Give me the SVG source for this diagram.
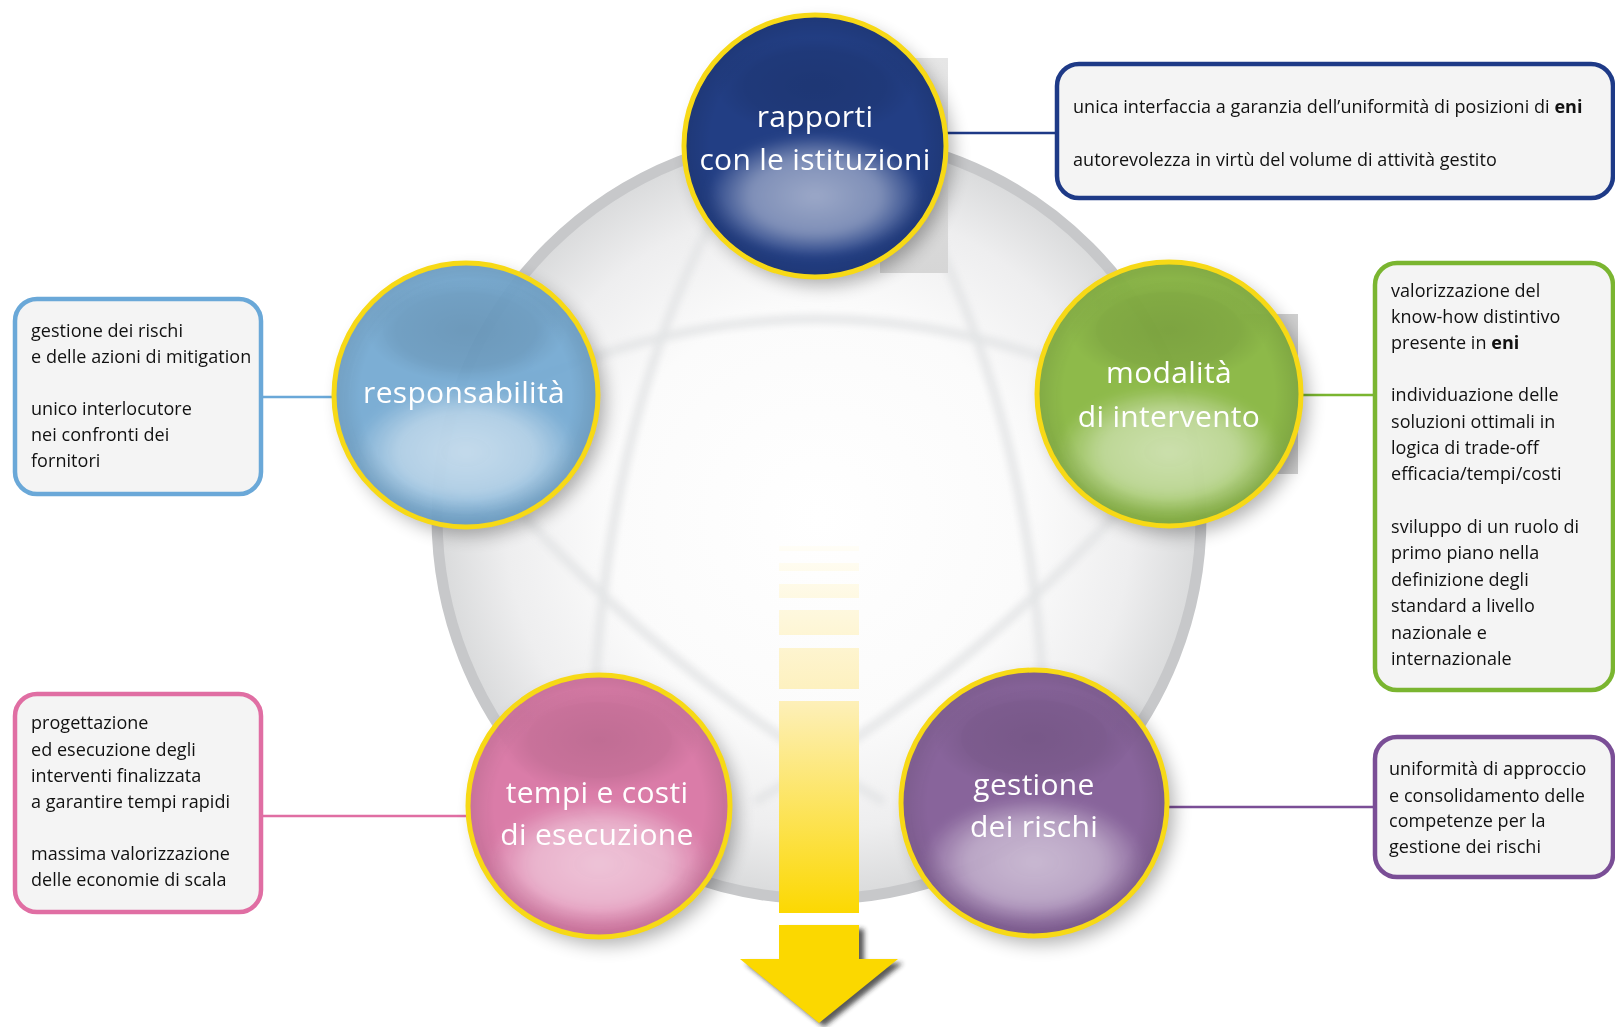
<svg xmlns="http://www.w3.org/2000/svg" width="1615" height="1027" viewBox="0 0 1615 1027">
<style>
.box{fill:#f4f4f4;stroke-width:4.5}
.bt{font-family:"Open Sans","Liberation Sans",sans-serif;font-size:18px;letter-spacing:0.05px;fill:#111}
.ct{font-family:"Open Sans","Liberation Sans",sans-serif;font-size:30px;letter-spacing:0.3px;fill:#fff;text-anchor:middle}
.ring{fill:none;stroke:#f7d916;stroke-width:5}
.arc{fill:none;stroke:#e4e5e6;stroke-width:10;stroke-linecap:round;opacity:0.8}
.con{stroke-width:2.5;fill:none}
</style>
<defs>
<radialGradient id="bg" cx="0.5" cy="0.5" r="0.5">
<stop offset="0" stop-color="#ffffff"/>
<stop offset="0.55" stop-color="#fbfbfb"/>
<stop offset="0.82" stop-color="#eeeeef"/>
<stop offset="1" stop-color="#d9dadb"/>
</radialGradient>
<radialGradient id="vig" cx="0.5" cy="0.5" r="0.5">
<stop offset="0.8" stop-color="#000" stop-opacity="0"/>
<stop offset="1" stop-color="#000" stop-opacity="0.1"/>
</radialGradient>
<radialGradient id="glow" cx="0.5" cy="0.5" r="0.5">
<stop offset="0" stop-color="#fff" stop-opacity="0.55"/>
<stop offset="0.6" stop-color="#fff" stop-opacity="0.42"/>
<stop offset="1" stop-color="#fff" stop-opacity="0"/>
</radialGradient>
<radialGradient id="dark" cx="0.5" cy="0.5" r="0.5">
<stop offset="0" stop-color="#000" stop-opacity="0.12"/>
<stop offset="0.7" stop-color="#000" stop-opacity="0.08"/>
<stop offset="1" stop-color="#000" stop-opacity="0"/>
</radialGradient>
<linearGradient id="arrowg" gradientUnits="userSpaceOnUse" x1="0" y1="540" x2="0" y2="915">
<stop offset="0" stop-color="#fffef9"/>
<stop offset="0.42" stop-color="#fdf0bc"/>
<stop offset="1" stop-color="#fcd800"/>
</linearGradient>
<linearGradient id="artg" x1="0" y1="0" x2="0" y2="1">
<stop offset="0" stop-color="#e6e6e6"/>
<stop offset="1" stop-color="#d6d6d6"/>
</linearGradient>
<filter id="sh" x="-30%" y="-30%" width="160%" height="160%">
<feGaussianBlur stdDeviation="9"/>
</filter>
<filter id="ash" x="-20%" y="-20%" width="140%" height="140%">
<feGaussianBlur stdDeviation="2.5"/>
</filter>
<filter id="soft" x="-10%" y="-10%" width="120%" height="120%">
<feGaussianBlur stdDeviation="3"/>
</filter>
<filter id="gblur" x="-20%" y="-20%" width="140%" height="140%">
<feGaussianBlur stdDeviation="4"/>
</filter>
</defs>

<!-- background sphere -->
<g id="sphere">
<circle cx="819" cy="517" r="382" fill="url(#bg)" stroke="#c7c8ca" stroke-width="11"/>
<g filter="url(#soft)">
<path class="arc" d="M470 410 Q818 228 1165 410"/>
<path class="arc" d="M740 170 Q590 420 592 800"/>
<path class="arc" d="M898 170 Q1048 420 1046 800"/>
<path class="arc" d="M470 455 Q640 660 880 800"/>
<path class="arc" d="M1168 455 Q998 660 758 800"/>
</g>
</g>

<!-- shadow artifacts -->
<rect x="880" y="58" width="68" height="215" fill="url(#artg)"/>
<rect x="1240" y="314" width="58" height="160" fill="#cfcfcf"/>

<!-- arrow -->
<g id="arrow">
<rect x="779" y="546" width="80" height="5" fill="url(#arrowg)"/>
<rect x="779" y="563" width="80" height="8" fill="url(#arrowg)"/>
<rect x="779" y="584" width="80" height="14" fill="url(#arrowg)"/>
<rect x="779" y="610" width="80" height="25" fill="url(#arrowg)"/>
<rect x="779" y="648" width="80" height="41" fill="url(#arrowg)"/>
<rect x="779" y="701" width="80" height="212" fill="url(#arrowg)"/>
<path d="M784 929 H864 V963 H903 L824 1027 L745 963 H784 Z" fill="#222" opacity="0.75" filter="url(#ash)"/>
<path d="M779 925 H859 V959 H898 L819 1023 L740 959 H779 Z" fill="#fbd800"/>
</g>

<!-- connectors -->
<g id="connectors">
<line class="con" x1="945" y1="133" x2="1057" y2="133" stroke="#1e3a87"/>
<line class="con" x1="261" y1="397" x2="336" y2="397" stroke="#6aa8d8"/>
<line class="con" x1="1299" y1="395" x2="1375" y2="395" stroke="#7ab530"/>
<line class="con" x1="261" y1="816" x2="470" y2="816" stroke="#e06ea3"/>
<line class="con" x1="1165" y1="807" x2="1375" y2="807" stroke="#7a4e96"/>
</g>

<!-- nodes: circles -->
<g id="n-rapporti">
<circle cx="822" cy="154" r="131" fill="#000" opacity="0.3" filter="url(#sh)"/>
<circle cx="815" cy="146" r="131" fill="#223e84"/>
<ellipse cx="815" cy="86" rx="100" ry="50" fill="url(#dark)"/>
<ellipse cx="815" cy="196" rx="108" ry="62" fill="url(#glow)" filter="url(#gblur)"/>
<circle cx="815" cy="146" r="131" fill="url(#vig)"/>
<circle class="ring" cx="815" cy="146" r="131"/>
<text class="ct" x="815" y="127">rapporti</text>
<text class="ct" x="815" y="170">con le istituzioni</text>
</g>

<g id="n-responsabilita">
<circle cx="473" cy="403" r="132" fill="#000" opacity="0.3" filter="url(#sh)"/>
<circle cx="466" cy="395" r="132" fill="#78add6" opacity="0.94"/>
<ellipse cx="466" cy="330" rx="100" ry="52" fill="url(#dark)"/>
<ellipse cx="466" cy="452" rx="112" ry="66" fill="url(#glow)" filter="url(#gblur)"/>
<circle cx="466" cy="395" r="132" fill="url(#vig)"/>
<circle class="ring" cx="466" cy="395" r="132"/>
<text class="ct" x="464" y="403">responsabilità</text>
</g>

<g id="n-modalita">
<circle cx="1176" cy="402" r="132" fill="#000" opacity="0.3" filter="url(#sh)"/>
<circle cx="1169" cy="394" r="132" fill="#8cba46" opacity="0.96"/>
<ellipse cx="1169" cy="330" rx="100" ry="52" fill="url(#dark)"/>
<ellipse cx="1169" cy="452" rx="112" ry="66" fill="url(#glow)" filter="url(#gblur)"/>
<circle cx="1169" cy="394" r="132" fill="url(#vig)"/>
<circle class="ring" cx="1169" cy="394" r="132"/>
<text class="ct" x="1169" y="383">modalità</text>
<text class="ct" x="1169" y="427">di intervento</text>
</g>

<g id="n-tempi">
<circle cx="606" cy="814" r="131" fill="#000" opacity="0.3" filter="url(#sh)"/>
<circle cx="599" cy="806" r="131" fill="#dc7aa8" opacity="0.96"/>
<ellipse cx="599" cy="740" rx="100" ry="52" fill="url(#dark)"/>
<ellipse cx="599" cy="864" rx="112" ry="66" fill="url(#glow)" filter="url(#gblur)"/>
<circle cx="599" cy="806" r="131" fill="url(#vig)"/>
<circle class="ring" cx="599" cy="806" r="131"/>
<text class="ct" x="597" y="803">tempi e costi</text>
<text class="ct" x="597" y="845">di esecuzione</text>
</g>

<g id="n-gestione">
<circle cx="1041" cy="811" r="133" fill="#000" opacity="0.3" filter="url(#sh)"/>
<circle cx="1034" cy="803" r="133" fill="#86619a" opacity="0.96"/>
<ellipse cx="1034" cy="738" rx="100" ry="52" fill="url(#dark)"/>
<ellipse cx="1034" cy="862" rx="112" ry="66" fill="url(#glow)" filter="url(#gblur)"/>
<circle cx="1034" cy="803" r="133" fill="url(#vig)"/>
<circle class="ring" cx="1034" cy="803" r="133"/>
<text class="ct" x="1034" y="795">gestione</text>
<text class="ct" x="1034" y="837">dei rischi</text>
</g>

<!-- nodes: boxes -->
<g id="b-rapporti">
<rect class="box" x="1057" y="64" width="556" height="134" rx="22" stroke="#1e3a87"/>
<text class="bt" x="1073" y="113">unica interfaccia a garanzia dell’uniformità di posizioni di <tspan font-weight="bold">eni</tspan></text>
<text class="bt" x="1073" y="166">autorevolezza in virtù del volume di attività gestito</text>
</g>

<g id="b-responsabilita">
<rect class="box" x="15" y="299" width="246" height="195" rx="22" stroke="#6aa8d8"/>
<text class="bt" x="31" y="337">gestione dei rischi</text>
<text class="bt" x="31" y="363">e delle azioni di mitigation</text>
<text class="bt" x="31" y="415">unico interlocutore</text>
<text class="bt" x="31" y="441">nei confronti dei</text>
<text class="bt" x="31" y="467">fornitori</text>
</g>

<g id="b-modalita">
<rect class="box" x="1375" y="263" width="238" height="427" rx="22" stroke="#7ab530"/>
<text class="bt" x="1391" y="297">valorizzazione del</text>
<text class="bt" x="1391" y="323">know-how distintivo</text>
<text class="bt" x="1391" y="349">presente in <tspan font-weight="bold">eni</tspan></text>
<text class="bt" x="1391" y="401">individuazione delle</text>
<text class="bt" x="1391" y="428">soluzioni ottimali in</text>
<text class="bt" x="1391" y="454">logica di trade-off</text>
<text class="bt" x="1391" y="480">efficacia/tempi/costi</text>
<text class="bt" x="1391" y="533">sviluppo di un ruolo di</text>
<text class="bt" x="1391" y="559">primo piano nella</text>
<text class="bt" x="1391" y="586">definizione degli</text>
<text class="bt" x="1391" y="612">standard a livello</text>
<text class="bt" x="1391" y="639">nazionale e</text>
<text class="bt" x="1391" y="665">internazionale</text>
</g>

<g id="b-tempi">
<rect class="box" x="15" y="694" width="246" height="218" rx="22" stroke="#e06ea3"/>
<text class="bt" x="31" y="729">progettazione</text>
<text class="bt" x="31" y="756">ed esecuzione degli</text>
<text class="bt" x="31" y="782">interventi finalizzata</text>
<text class="bt" x="31" y="808">a garantire tempi rapidi</text>
<text class="bt" x="31" y="860">massima valorizzazione</text>
<text class="bt" x="31" y="886">delle economie di scala</text>
</g>

<g id="b-gestione">
<rect class="box" x="1375" y="737" width="238" height="140" rx="22" stroke="#7a4e96"/>
<text class="bt" x="1389" y="775">uniformità di approccio</text>
<text class="bt" x="1389" y="802">e consolidamento delle</text>
<text class="bt" x="1389" y="827">competenze per la</text>
<text class="bt" x="1389" y="853">gestione dei rischi</text>
</g>
</svg>
